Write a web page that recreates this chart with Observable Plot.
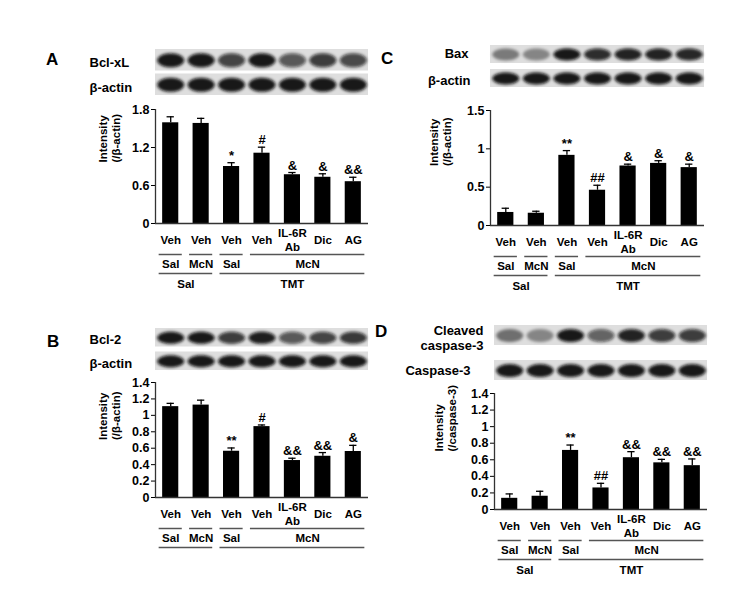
<!DOCTYPE html>
<html><head><meta charset="utf-8">
<script src="https://cdn.jsdelivr.net/npm/d3@7"></script>
<script src="https://cdn.jsdelivr.net/npm/@observablehq/plot@0.6"></script>
<style>
body{margin:0;background:#fff;}
#fig{position:relative;width:734px;height:591px;background:#fff;overflow:hidden;font-family:"Liberation Sans",Arial,sans-serif;font-weight:bold;color:#000;}
#fig > *{position:absolute;}
#fig svg{background:transparent;overflow:visible;max-width:none;}
.letter{font-size:17px;line-height:17px;}
</style></head><body><div id="fig"></div>
<script>
// ---------- data ----------
const lanes = ["Veh","Veh","Veh","Veh","IL-6R\nAb","Dic","AG"];
const tier1Labels = ["Sal","McN","Sal","McN"];
const tier1From = [0,1,2,3];
const tier1To = [0,1,2,6];
const tier2Labels = ["Sal","TMT"];
const tier2From = [0,2];
const tier2To = [1,6];

// Panel A: Bcl-xL
const bclxlMean = [1.59,1.58,0.90,1.11,0.77,0.73,0.66];
const bclxlErr  = [0.095,0.08,0.06,0.095,0.035,0.055,0.07];
const bclxlSig  = ["","","*","#","&","&","&&"];
const bclxlTicks = [0,0.6,1.2,1.8];
const bclxlBand  = [0.95,0.95,0.75,0.95,0.65,0.78,0.72];
const actinBandA = [0.95,0.95,0.95,0.95,0.95,0.95,0.95];

// Panel B: Bcl-2
const bcl2Mean = [1.106,1.125,0.563,0.863,0.45,0.502,0.56];
const bcl2Err  = [0.04,0.06,0.04,0.02,0.028,0.045,0.075];
const bcl2Sig  = ["","","**","#","&&","&&","&"];
const bcl2Ticks = [0,0.2,0.4,0.6,0.8,1,1.2,1.4];
const bcl2Band  = [0.95,0.95,0.78,0.92,0.65,0.75,0.8];
const actinBandB = [0.95,0.95,0.95,0.95,0.95,0.95,0.95];

// Panel C: Bax
const baxMean = [0.17,0.16,0.915,0.46,0.776,0.81,0.755];
const baxErr  = [0.055,0.026,0.062,0.065,0.024,0.035,0.045];
const baxSig  = ["","","**","##","&","&","&"];
const baxTicks = [0,0.5,1,1.5];
const baxBand  = [0.45,0.4,0.95,0.85,0.9,0.9,0.88];
const actinBandC = [0.95,0.95,0.95,0.95,0.95,0.95,0.95];

// Panel D: Cleaved caspase-3
const casMean = [0.135,0.16,0.713,0.26,0.625,0.563,0.529];
const casErr  = [0.053,0.06,0.065,0.056,0.073,0.042,0.081];
const casSig  = ["","","**","##","&&","&&","&&"];
const casTicks = [0,0.2,0.4,0.6,0.8,1,1.2,1.4];
const cleavedBand = [0.5,0.4,0.95,0.6,0.9,0.78,0.78];
const caspaseBand = [0.95,0.95,0.95,0.95,0.95,0.95,0.95];

// ---------- layout ----------
const FONT = '"Liberation Sans", Arial, sans-serif';
const fig = document.getElementById("fig");

function ellipse(rx, ry) {
  const k = 0.5523;
  return {draw(ctx) {
    ctx.moveTo(-rx, 0);
    ctx.bezierCurveTo(-rx, -ry*k, -rx*k, -ry, 0, -ry);
    ctx.bezierCurveTo(rx*k, -ry, rx, -ry*k, rx, 0);
    ctx.bezierCurveTo(rx, ry*k, rx*k, ry, 0, ry);
    ctx.bezierCurveTo(-rx*k, ry, -rx, ry*k, -rx, 0);
    ctx.closePath();
  }};
}

function place(el, left, top) {
  el.style.left = left + "px";
  el.style.top = top + "px";
  fig.appendChild(el);
}

function barPanel(p) {
  const rows = lanes.map((lab, i) => ({i, lab, v: p.mean[i], top: p.mean[i] + p.err[i], sig: p.sig[i]}));
  const t1 = tier1Labels.map((l, k) => ({l, a: tier1From[k], b: tier1To[k]}));
  const t2 = tier2Labels.map((l, k) => ({l, a: tier2From[k], b: tier2To[k]}));
  const marks = [
    Plot.axisY({ticks: p.ticks, tickFormat: d => String(d), tickSize: 4, tickPadding: 2, label: null, fontSize: 12.5}),
    Plot.rectY(rows, {x1: d => d.i - 0.265, x2: d => d.i + 0.265, y1: 0, y2: "v", fill: "#000"}),
    Plot.ruleX(rows, {x: "i", y1: "v", y2: "top", stroke: "#000", strokeWidth: 1.3}),
    Plot.ruleY(rows, {y: "top", x1: d => d.i - 0.12, x2: d => d.i + 0.12, stroke: "#000", strokeWidth: 1.3}),
    Plot.text(rows, {x: "i", y: "top", text: "sig", lineAnchor: "bottom", dy: -3, fontSize: 13}),
    Plot.ruleX([0], {x: -0.5, y1: 0, y2: p.ymax, stroke: "#333", strokeWidth: 1.3}),
    Plot.ruleY([0], {stroke: "#333", strokeWidth: 1.3}),
    Plot.text(rows, {x: "i", text: "lab", frameAnchor: "bottom", dy: 16, lineAnchor: "middle", lineHeight: 1.2, fontSize: 11.5}),
    Plot.ruleY(t1, {y: 0, x1: d => d.a - 0.38, x2: d => d.b + 0.38, dy: 31, stroke: "#555", strokeWidth: 1.5}),
    Plot.text(t1, {x: d => (d.a + d.b) / 2, text: "l", frameAnchor: "bottom", dy: 41, lineAnchor: "middle", fontSize: 11.5}),
    Plot.ruleY(t2, {y: 0, x1: d => d.a - 0.38, x2: d => d.b + 0.38, dy: 50, stroke: "#555", strokeWidth: 1.5}),
    Plot.text([p.ylabel], {text: d => d, frameAnchor: "left", rotate: -90, dx: p.ylDx, dy: p.ylDy, lineAnchor: "middle", lineHeight: 1.1, fontSize: 11.5})
  ];
  if (p.tier2Text) marks.push(Plot.text(t2, {x: d => (d.a + d.b) / 2, text: "l", frameAnchor: "bottom", dy: 61, lineAnchor: "middle", fontSize: 11.5}));
  const chart = Plot.plot({
    width: p.w, height: p.mt + p.frameH + p.mb,
    marginLeft: p.ml, marginRight: p.mr, marginTop: p.mt, marginBottom: p.mb,
    style: {fontFamily: FONT, fontWeight: "bold", fontSize: "12px", background: "transparent", overflow: "visible", color: "#000"},
    x: {type: "linear", domain: [-0.5, 6.5], axis: null},
    y: {domain: [0, p.ymax]},
    marks
  });
  place(chart, p.left, p.top);
}

let blotId = 0;
function blotPanel(p) {
  const b = p.blot;
  const step = (b.h + b.gap) / 2;
  const keys = b.rows.map(r => r.key);
  const strips = b.rows.map(r => ({key: r.key}));
  const bands = [];
  b.rows.forEach(r => r.values.forEach((a, i) => bands.push({key: r.key, i, a})));
  const bw = step - b.gap;
  const marks = [
    Plot.barX(strips, {x1: -0.5, x2: 6.5, y: "key", fill: "#dedede"}),
    Plot.dot(bands, {x: "i", y: "key", r: 5, symbol: ellipse(13.5, bw * 0.33), fill: "#0c0c0c", fillOpacity: "a", stroke: null})
  ];
  b.rows.forEach(r => marks.push(Plot.text([r], {y: "key", text: "label", frameAnchor: "left", textAnchor: r.anchor, dx: r.dx, dy: r.dy || 0, lineAnchor: "middle", lineHeight: 1.15, fontSize: 13})));
  const chart = Plot.plot({
    width: p.w, height: b.h,
    marginLeft: p.ml, marginRight: p.mr, marginTop: 0, marginBottom: 0,
    style: {fontFamily: FONT, fontWeight: "bold", fontSize: "13px", background: "transparent", overflow: "visible", color: "#000"},
    x: {type: "linear", domain: [-0.5, 6.5], axis: null},
    y: {type: "band", domain: keys, paddingInner: b.gap / step, paddingOuter: 0, axis: null, round: false},
    marks
  });
  const id = "blur" + (blotId++);
  const svg = d3.select(chart.tagName.toLowerCase() === "svg" ? chart : chart.querySelector("svg"));
  svg.insert("defs", ":first-child").append("filter").attr("id", id)
    .attr("x", "-10%").attr("y", "-30%").attr("width", "120%").attr("height", "160%")
    .append("feGaussianBlur").attr("stdDeviation", 1.5);
  svg.select('g[aria-label="dot"]').attr("filter", `url(#${id})`);
  place(chart, p.left, b.top);
}

function letter(t, left, top) {
  const d = document.createElement("div");
  d.className = "letter";
  d.textContent = t;
  place(d, left, top);
}

const panels = [
  {name: "A", left: 40, top: 100, w: 340, ml: 115, mr: 12, mt: 9, frameH: 114, mb: 72,
   ymax: 1.8, ticks: bclxlTicks, mean: bclxlMean, err: bclxlErr, sig: bclxlSig,
   ylabel: "Intensity\n(/β-actin)", ylDx: -46, ylDy: -4, tier2Text: true, letter: [46, 51],
   blot: {top: 49, h: 46, gap: 3, rows: [
     {key: "Bcl-xL", label: "Bcl-xL", values: bclxlBand, anchor: "start", dx: -66, dy: 2},
     {key: "β-actin", label: "β-actin", values: actinBandA, anchor: "start", dx: -66, dy: 2}]}},
  {name: "C", left: 370, top: 100, w: 344, ml: 120, mr: 10, mt: 10, frameH: 115, mb: 72,
   ymax: 1.5, ticks: baxTicks, mean: baxMean, err: baxErr, sig: baxSig,
   ylabel: "Intensity\n(/β-actin)", ylDx: -50, ylDy: -2, tier2Text: true, letter: [381, 50],
   blot: {top: 45, h: 42, gap: 6, rows: [
     {key: "Bax", label: "Bax", values: baxBand, anchor: "end", dx: -22, dy: -1},
     {key: "β-actin", label: "β-actin", values: actinBandC, anchor: "end", dx: -20, dy: 2}]}},
  {name: "B", left: 40, top: 372, w: 340, ml: 115, mr: 12, mt: 10, frameH: 115, mb: 56,
   ymax: 1.4, ticks: bcl2Ticks, mean: bcl2Mean, err: bcl2Err, sig: bcl2Sig,
   ylabel: "Intensity\n(/β-actin)", ylDx: -46, ylDy: 0, tier2Text: false, letter: [47, 333],
   blot: {top: 328, h: 42, gap: 5, rows: [
     {key: "Bcl-2", label: "Bcl-2", values: bcl2Band, anchor: "start", dx: -66, dy: 1},
     {key: "β-actin", label: "β-actin", values: actinBandB, anchor: "start", dx: -66, dy: 2}]}},
  {name: "D", left: 370, top: 382, w: 344, ml: 124, mr: 7, mt: 11, frameH: 116, mb: 72,
   ymax: 1.4, ticks: casTicks, mean: casMean, err: casErr, sig: casSig,
   ylabel: "Intensity\n(/caspase-3)", ylDx: -49, ylDy: 0, tier2Text: true, letter: [375, 323],
   blot: {top: 325, h: 55, gap: 15, rows: [
     {key: "Cleaved caspase-3", label: "Cleaved\ncaspase-3", values: cleavedBand, anchor: "end", dx: -11, dy: 2},
     {key: "Caspase-3", label: "Caspase-3", values: caspaseBand, anchor: "end", dx: -24, dy: 0}]}}
];

panels.forEach(p => {
  blotPanel(p);
  barPanel(p);
  letter(p.name, p.letter[0], p.letter[1]);
});
</script>
</body></html>
